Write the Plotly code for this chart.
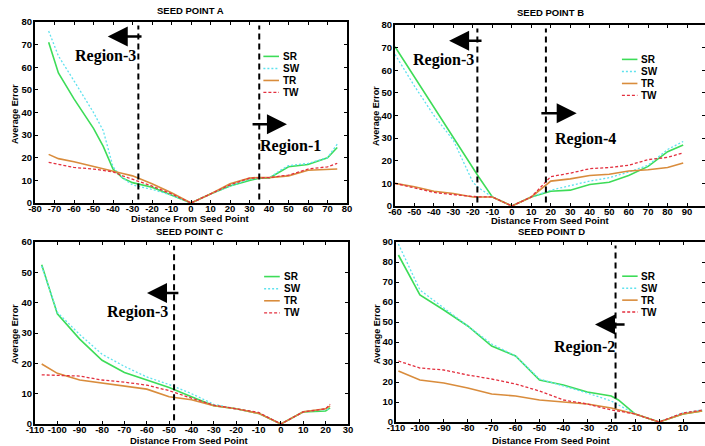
import plotly.graph_objects as go

# ---------------- data ----------------
series_names = ["SR", "SW", "TR", "TW"]

a_x = [-73, -68, -60, -50, -45, -40, -35, -30, -20, -10, 0, 10, 20, 30, 35, 40, 45, 50, 60, 70, 75]
a_sr = [71, 57.5, 46, 33, 25, 15, 11, 9, 7, 3.5, 0, 4, 7.5, 10, 11, 11, 13.5, 16, 17, 20, 24.5]
a_sw = [76, 65, 54, 40, 32, 16, 11, 8, 6, 3.5, 0, 4, 7.5, 10.5, 11, 11, 14, 16.5, 17.5, 20, 26]
a_tr = [21.5, 19.6, 18.2, 16, 15, 14, 13, 12, 8.5, 4.5, 0, 4, 8.5, 11, 11.3, 11.2, 11.5, 12, 14.5, 15, 15]
a_tw = [18, 17, 15.7, 15, 14.3, 13.8, 12, 10.5, 7.5, 4, 0, 4, 8, 11, 11, 11.2, 11.8, 12.3, 15, 16, 17.5]

b_x = [-60, -50, -40, -30, -20, -17, -10, 0, 10, 20, 30, 40, 50, 60, 70, 80, 88]
b_sr = [70.4, 57, 43.5, 30, 16.5, 12.8, 4, 0, 4, 6.5, 7, 9.5, 10.5, 13.5, 17.5, 24, 27]
b_sw = [67, 53, 40, 29, 10.5, 8, 4, 0, 4, 7, 9, 11, 12.5, 15, 18, 25, 28.5]
b_tr = [10, 8.5, 6.5, 5.5, 4, 4, 4, 0, 4, 11, 12, 13.5, 14, 15.5, 16, 17, 19]
b_tw = [10, 8, 6, 5, 4, 4, 4, 0, 4, 13, 14.5, 16.5, 17, 18, 20.5, 21.5, 23.5]

c_x = [-107, -100, -90, -80, -70, -60, -50, -40, -30, -20, -10, 0, 10, 20, 22]
c_sr = [52.5, 36.3, 28, 21, 17, 14.5, 12, 9, 6, 5, 3.5, 0, 4, 4.3, 5.3]
c_sw = [52, 36.8, 29.5, 23, 19, 15.5, 13, 10, 6.5, 5, 3.5, 0, 4, 4.8, 5]
c_tr = [19.8, 16.7, 14.5, 13.5, 12.5, 11.5, 9, 8, 6, 5, 3.5, 0, 4, 5, 6]
c_tw = [16.2, 16, 15.8, 14.5, 13.8, 12.8, 11, 8.5, 6.2, 5, 3.8, 0, 4, 5, 6.5]

d_x = [-109, -100, -90, -80, -70, -60, -50, -40, -30, -20, -17, -10, 0, 10, 18]
d_sr = [83.5, 63.5, 56, 48, 38, 33, 21, 18.5, 15, 13, 11, 4, 0, 4, 5.5]
d_sw = [89, 66, 57, 48, 39, 33, 21.5, 18, 14.5, 10.5, 8.5, 4, 0, 4.5, 6]
d_tr = [25.5, 21, 19.5, 17, 14, 13, 11, 10, 9, 7, 6, 4, 0, 4, 5.5]
d_tw = [30.5, 27, 26, 23.5, 21.5, 19, 15.5, 11, 9, 6, 5.5, 4, 0, 4.5, 6]

panel_titles = ["SEED POINT A", "SEED POINT B", "SEED POINT C", "SEED POINT D"]
x_title = "Distance From Seed Point"
y_title = "Average Error"
x_ranges = [[-80, 80], [-60, 99.2], [-110, 30], [-110, 19.2]]
y_ranges = [[0, 80], [0, 80], [0, 60], [0, 90]]

# tick values / labels (plain hyphen minus as in the original)
x_tickvals = [list(range(-80, 81, 10)), list(range(-60, 101, 10)),
              list(range(-110, 31, 10)), list(range(-110, 21, 10))]
y_tickvals = [list(range(0, 81, 10)), list(range(0, 81, 10)),
              list(range(0, 61, 10)), list(range(0, 91, 10))]
x_ticktext = [[str(v) for v in tv] for tv in x_tickvals]
y_ticktext = [[str(v) for v in tv] for tv in y_tickvals]

# region boundaries (x positions of dashed lines) per panel
region_lines = [[-27, 35], [-17.7, 17.5], [-47.8], [-18.2]]
# region labels: (panel, text, x, y)
region_labels = [
    (0, "Region-3", -43.6, 64.8), (0, "Region-1", 51, 25),
    (1, "Region-3", -35, 64.5), (1, "Region-4", 37.7, 29.7),
    (2, "Region-3", -64, 36.8),
    (3, "Region-2", -31, 37.7),
]
# region arrows: (panel, x_tail, x_head, y)
region_arrows = [
    (0, -24.6, -42.7, 73.6), (0, 30.8, 49.2, 34.8),
    (1, -14.8, -32.2, 73), (1, 14.4, 33.3, 41),
    (2, -45.2, -59.9, 43.2),
    (3, -13.8, -26.8, 48.8),
]

# ---------------- styles / layout ----------------
colors = {"SR": "#3ddc58", "SW": "#5fe2ee", "TR": "#d98c3c", "TW": "#e3303f"}
dashes = {"SR": "solid", "SW": "2px,2px", "TR": "solid", "TW": "3px,2px"}
widths = {"SR": 1.6, "SW": 1.3, "TR": 1.6, "TW": 1.3}

W, H = 705, 446
x_domains = [[35 / W, 347 / W], [395 / W, 1.0], [35 / W, 348 / W], [396 / W, 1.0]]
y_domains = [[1 - 203 / H, 1 - 22 / H], [1 - 206 / H, 1 - 25 / H],
             [1 - 424 / H, 1 - 242 / H], [1 - 422 / H, 1 - 242 / H]]
title_px = [(190, 11), (550, 13), (189, 232), (551, 231)]
xtitle_px = [(190, 218), (550, 220), (189, 440), (551, 440)]
ytitle_px = [(15, 114), (376, 116), (15, 334), (377, 334)]

panels = [
    (a_x, [a_sr, a_sw, a_tr, a_tw]),
    (b_x, [b_sr, b_sw, b_tr, b_tw]),
    (c_x, [c_sr, c_sw, c_tr, c_tw]),
    (d_x, [d_sr, d_sw, d_tr, d_tw]),
]

bold = dict(family="Liberation Sans, Arial, sans-serif", weight="bold", color="black")

fig = go.Figure()
layout = dict(
    width=W, height=H, margin=dict(l=0, r=0, t=0, b=0, autoexpand=False),
    paper_bgcolor="white", plot_bgcolor="white", showlegend=False,
)
shapes = []
annotations = []


def px_paper(px, py):
    return px / W, 1 - py / H


for i, (xs, ys_list) in enumerate(panels):
    n = "" if i == 0 else str(i + 1)
    xa, ya = "x" + n, "y" + n
    for name, ys in zip(series_names, ys_list):
        fig.add_trace(go.Scatter(
            x=xs, y=ys, mode="lines", name=name, xaxis=xa, yaxis=ya,
            line=dict(color=colors[name], dash=dashes[name], width=widths[name]),
            hoverinfo="x+y+name",
        ))
    axcommon = dict(
        showline=True, linewidth=2, linecolor="black", mirror="ticks",
        ticks="inside", ticklen=3, tickwidth=1, tickcolor="black",
        showgrid=False, zeroline=False, tickangle=0, tickmode="array",
        automargin=False, tickfont=dict(size=9.5, **bold),
    )
    layout["xaxis" + n] = dict(
        domain=x_domains[i], range=x_ranges[i], anchor=ya,
        tickvals=x_tickvals[i], ticktext=x_ticktext[i], ticklabelstandoff=-4,
        **axcommon,
    )
    layout["yaxis" + n] = dict(
        domain=y_domains[i], range=y_ranges[i], anchor=xa,
        tickvals=y_tickvals[i], ticktext=y_ticktext[i], ticklabelstandoff=-1,
        **axcommon,
    )
    tx, ty = px_paper(*title_px[i])
    annotations.append(dict(
        text=panel_titles[i], x=tx, y=ty, xref="paper", yref="paper", showarrow=False,
        font=dict(size=9.5, **bold), xanchor="center", yanchor="middle",
    ))
    tx, ty = px_paper(*xtitle_px[i])
    annotations.append(dict(
        text=x_title, x=tx, y=ty, xref="paper", yref="paper", showarrow=False,
        font=dict(size=9.5, **bold), xanchor="center", yanchor="middle",
    ))
    tx, ty = px_paper(*ytitle_px[i])
    annotations.append(dict(
        text=y_title, x=tx, y=ty, xref="paper", yref="paper", showarrow=False,
        textangle=-90, font=dict(size=9, **bold), xanchor="center", yanchor="middle",
    ))
    # region dashed lines
    for xv in region_lines[i]:
        shapes.append(dict(
            type="line", xref=xa, yref=ya + " domain", x0=xv, x1=xv, y0=0.02, y1=0.98,
            line=dict(color="black", width=2, dash="6px,4px"),
        ))
    # compact legend
    leg_y = [0.81, 0.743, 0.677, 0.611]
    for name, ly in zip(series_names, leg_y):
        shapes.append(dict(
            type="line", xref=xa + " domain", yref=ya + " domain",
            x0=0.732, x1=0.782, y0=ly, y1=ly,
            line=dict(color=colors[name], dash=dashes[name], width=widths[name]),
        ))
        annotations.append(dict(
            text=name, x=0.788, y=ly, xref=xa + " domain", yref=ya + " domain",
            showarrow=False, xanchor="left", yanchor="middle",
            font=dict(size=10, **bold),
        ))

for (p, txt, xv, yv) in region_labels:
    n = "" if p == 0 else str(p + 1)
    annotations.append(dict(
        text=txt, x=xv, y=yv, xref="x" + n, yref="y" + n, showarrow=False,
        xanchor="center", yanchor="middle",
        font=dict(family="Liberation Serif, Times New Roman, serif", size=16,
                  weight="bold", color="black"),
    ))

for (p, xt, xh, yv) in region_arrows:
    n = "" if p == 0 else str(p + 1)
    annotations.append(dict(
        text="", x=xh, y=yv, ax=xt, ay=yv, xref="x" + n, yref="y" + n,
        axref="x" + n, ayref="y" + n, showarrow=True,
        arrowhead=2, arrowsize=1.6, arrowwidth=2.5, arrowcolor="black",
    ))

layout["shapes"] = shapes
layout["annotations"] = annotations
fig.update_layout(**layout)
fig.write_html(
    "out.html",
    config={"displayModeBar": False},
    post_script="document.body.style.margin='0';document.body.style.overflow='hidden';",
)
